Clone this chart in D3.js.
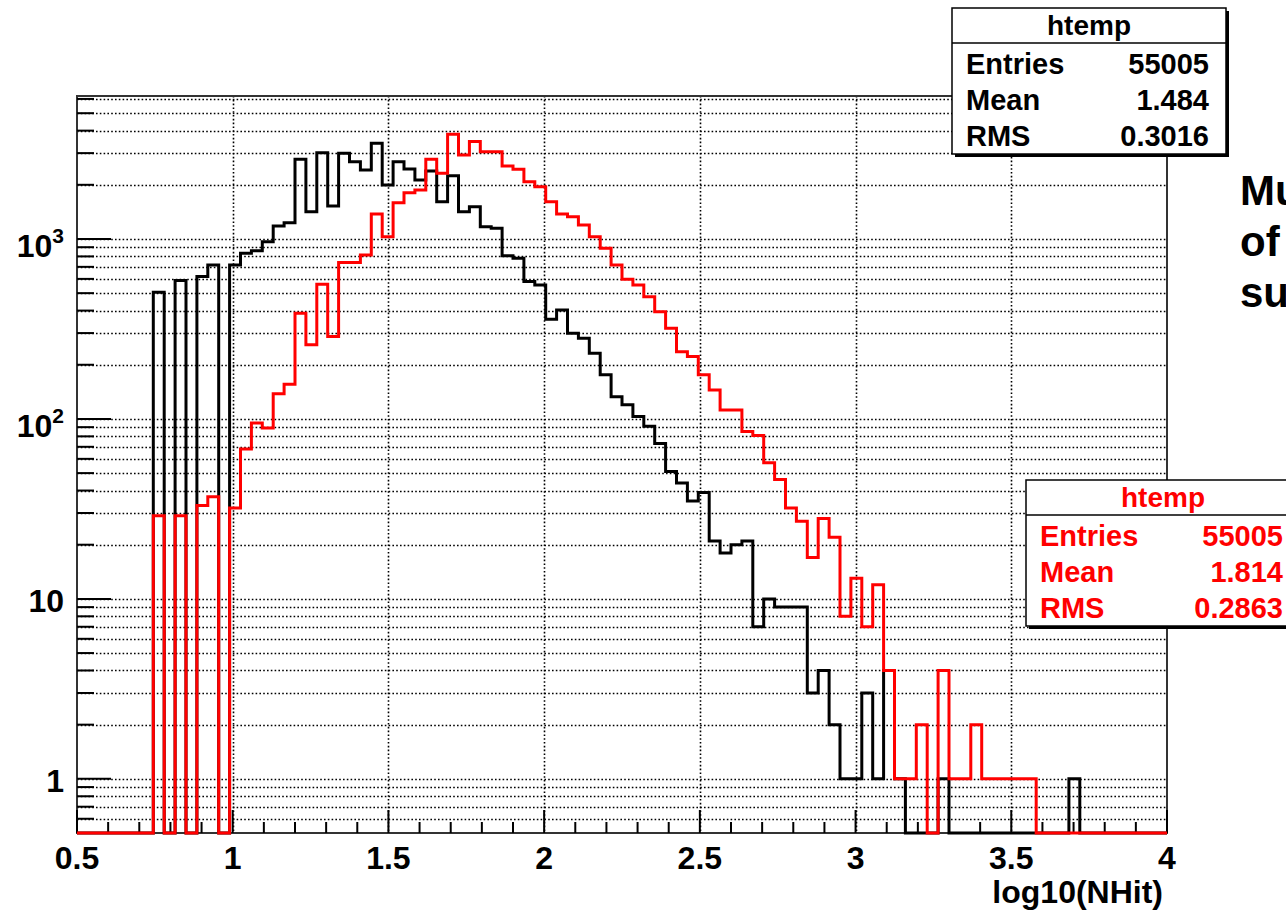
<!DOCTYPE html>
<html>
<head>
<meta charset="utf-8">
<script src="https://cdn.jsdelivr.net/npm/d3@7"></script>
<style>
body { margin: 0; background: #fff; }
svg { display: block; font-family: "Liberation Sans", Arial, Helvetica, sans-serif; font-weight: bold; }
</style>
</head>
<body>
<script>
// histogram range: 100 bins of log10(NHit) from 0.5 to 4
var xMin = 0.5, xMax = 4, nBins = 100;

// black histogram, bin contents (bin 0 .. 99)
var countsBlack = [
    0, 0, 0, 0, 0, 0, 0, 506, 0, 587,
    0, 618, 717, 0, 717, 833, 860, 966, 1180, 1232,
    2773, 1418, 3015, 1525, 2994, 2687, 2416, 3403, 1995, 2687,
    2448, 2127, 2387, 1611, 2248, 1418, 1511, 1170, 1146, 808,
    781, 580, 555, 358, 403, 299, 281, 232, 176, 133,
    120, 103, 91, 73, 51, 44, 35, 39, 21, 18,
    20, 21, 7, 10, 9, 9, 9, 3, 4, 2,
    1, 1, 3, 1, 4, 1, 0, 0, 0, 1,
    0, 0, 0, 0, 0, 0, 0, 0, 0, 0,
    0, 1, 0, 0, 0, 0, 0, 0, 0, 0
];

// red histogram, bin contents (bin 0 .. 99)
var countsRed = [
    0, 0, 0, 0, 0, 0, 0, 29, 0, 29,
    0, 33, 37, 0, 32, 68, 95, 89, 138, 156,
    387, 258, 560, 287, 739, 739, 815, 1377, 1030, 1589,
    1807, 1871, 2773, 2317, 3818, 2929, 3475, 3055, 3055, 2545,
    2440, 2080, 1953, 1611, 1377, 1330, 1196, 1030, 888, 717,
    597, 555, 478, 394, 319, 236, 222, 176, 145, 112,
    112, 85, 81, 57, 46, 32, 27, 17, 28, 22,
    8, 13, 7, 12, 4, 1, 1, 2, 0, 4,
    1, 1, 2, 1, 1, 1, 1, 1, 0, 0,
    0, 0, 0, 0, 0, 0, 0, 0, 0, 0
];

var xTickLabels = ["0.5", "1", "1.5", "2", "2.5", "3", "3.5", "4"];
var yDecades = [1, 10, 100, 1000];
var yDecadeLabels = [["1", ""], ["10", ""], ["10", "2"], ["10", "3"]];

var statNames = ["Entries", "Mean", "RMS"];
var statsBlack = ["55005", "1.484", "0.3016"];
var statsRed = ["55005", "1.814", "0.2863"];
var sideText = ["Mu", "of", "su"];

var W = 1286, H = 912;
var padL = 77, padR = 1167, padT = 96, padB = 833;

var svg = d3.select("body")
            .append("svg")
            .attr("width", W)
            .attr("height", H);

var x = d3.scaleLinear().domain([xMin, xMax]).range([padL, padR]);
var y = d3.scaleLog().domain([0.5, 6230]).range([padB, padT]);
var bw = (xMax - xMin) / nBins;

// dotted grid
var yGrid = y.ticks().filter(function(d) { return d > 0.5; });
var xGrid = x.ticks(7).filter(function(d) { return d > xMin && d < xMax; });

svg.selectAll("line.gy")
    .data(yGrid)
    .enter()
    .append("line")
    .attr("x1", padL).attr("x2", padR)
    .attr("y1", function(d) { return Math.round(y(d)) + 0.5; })
    .attr("y2", function(d) { return Math.round(y(d)) + 0.5; })
    .attr("stroke", "#000")
    .attr("stroke-width", 1.6)
    .attr("stroke-dasharray", "1.6,2.2");

svg.selectAll("line.gx")
    .data(xGrid)
    .enter()
    .append("line")
    .attr("y1", padT).attr("y2", padB)
    .attr("x1", function(d) { return Math.round(x(d)) + 0.5; })
    .attr("x2", function(d) { return Math.round(x(d)) + 0.5; })
    .attr("stroke", "#000")
    .attr("stroke-width", 1.6)
    .attr("stroke-dasharray", "1.6,2.2");

// frame
svg.append("rect")
    .attr("x", padL).attr("y", padT)
    .attr("width", padR - padL).attr("height", padB - padT)
    .attr("fill", "none")
    .attr("stroke", "#333")
    .attr("stroke-width", 2);

// y ticks
svg.selectAll("line.ty")
    .data(yGrid)
    .enter()
    .append("line")
    .attr("x1", padL)
    .attr("x2", function(d) { return yDecades.indexOf(d) >= 0 ? padL + 34 : padL + 17; })
    .attr("y1", function(d) { return y(d); })
    .attr("y2", function(d) { return y(d); })
    .attr("stroke", "#000")
    .attr("stroke-width", 2);

// x ticks
svg.selectAll("line.tx")
    .data(x.ticks(35))
    .enter()
    .append("line")
    .attr("x1", function(d) { return x(d); })
    .attr("x2", function(d) { return x(d); })
    .attr("y1", padB)
    .attr("y2", function(d) {
        var major = Math.abs(d * 2 - Math.round(d * 2)) < 1e-6;
        return major ? padB - 23 : padB - 11;
    })
    .attr("stroke", "#000")
    .attr("stroke-width", 2);

// histograms
function histPath(vals) {
    var yb = y(0.5);
    var pts = [[x(xMin), yb]];
    vals.forEach(function(v, i) {
        var yy = v > 0 ? y(v) : yb;
        pts.push([x(xMin + i * bw), yy]);
        pts.push([x(xMin + (i + 1) * bw), yy]);
    });
    pts.push([x(xMax), yb]);
    return d3.line()(pts);
}

svg.append("path")
    .attr("d", histPath(countsBlack))
    .attr("fill", "none")
    .attr("stroke", "#000")
    .attr("stroke-width", 3)
    .attr("stroke-linejoin", "miter");

svg.append("path")
    .attr("d", histPath(countsRed))
    .attr("fill", "none")
    .attr("stroke", "#ff0000")
    .attr("stroke-width", 3)
    .attr("stroke-linejoin", "miter");

// x tick labels
svg.selectAll("text.xl")
    .data(xTickLabels)
    .enter()
    .append("text")
    .attr("x", function(d) { return x(+d); })
    .attr("y", 869)
    .attr("text-anchor", "middle")
    .attr("font-size", "32px")
    .attr("fill", "#000")
    .text(function(d) { return d; });

// y tick labels
var yl = svg.selectAll("text.yl")
    .data(yDecades)
    .enter()
    .append("text")
    .attr("x", 64)
    .attr("y", function(d, i) { return y(d) + (yDecadeLabels[i][1] ? 18 : 13.5); })
    .attr("text-anchor", "end")
    .attr("font-size", "32px")
    .attr("fill", "#000");
yl.append("tspan").text(function(d, i) { return yDecadeLabels[i][0]; });
yl.append("tspan")
    .attr("dy", -14)
    .attr("font-size", "21px")
    .text(function(d, i) { return yDecadeLabels[i][1]; });

// axis title
svg.append("text")
    .attr("x", 1163).attr("y", 903)
    .attr("text-anchor", "end")
    .attr("font-size", "32px")
    .attr("fill", "#000")
    .text("log10(NHit)");

// stats boxes
function statBox(bx, by, values, colour) {
    var w = 274, h = 146;
    var g = svg.append("g");
    g.append("rect")
        .attr("x", bx + 3).attr("y", by + 3)
        .attr("width", w).attr("height", h)
        .attr("fill", "#000");
    g.append("rect")
        .attr("x", bx).attr("y", by)
        .attr("width", w).attr("height", h)
        .attr("fill", "#fff")
        .attr("stroke", "#000")
        .attr("stroke-width", 1.5);
    g.append("line")
        .attr("x1", bx).attr("x2", bx + w)
        .attr("y1", by + 35).attr("y2", by + 35)
        .attr("stroke", "#000")
        .attr("stroke-width", 1.5);
    g.append("text")
        .attr("x", bx + w / 2).attr("y", by + 27)
        .attr("text-anchor", "middle")
        .attr("font-size", "28px")
        .attr("fill", colour)
        .text("htemp");
    g.selectAll("text.n")
        .data(statNames)
        .enter()
        .append("text")
        .attr("x", bx + 14)
        .attr("y", function(d, i) { return by + 66 + i * 36; })
        .attr("font-size", "29px")
        .attr("fill", colour)
        .text(function(d) { return d; });
    g.selectAll("text.v")
        .data(values)
        .enter()
        .append("text")
        .attr("x", bx + 257)
        .attr("y", function(d, i) { return by + 66 + i * 36; })
        .attr("text-anchor", "end")
        .attr("font-size", "29px")
        .attr("fill", colour)
        .text(function(d) { return d; });
}

statBox(952, 8, statsBlack, "#000");
statBox(1026, 480, statsRed, "#ff0000");

// side caption, cut by the page edge as in the original
svg.selectAll("text.side")
    .data(sideText)
    .enter()
    .append("text")
    .attr("x", 1240)
    .attr("y", function(d, i) { return 205 + i * 51; })
    .attr("font-size", "42px")
    .attr("fill", "#000")
    .text(function(d) { return d; });
</script>
</body>
</html>
